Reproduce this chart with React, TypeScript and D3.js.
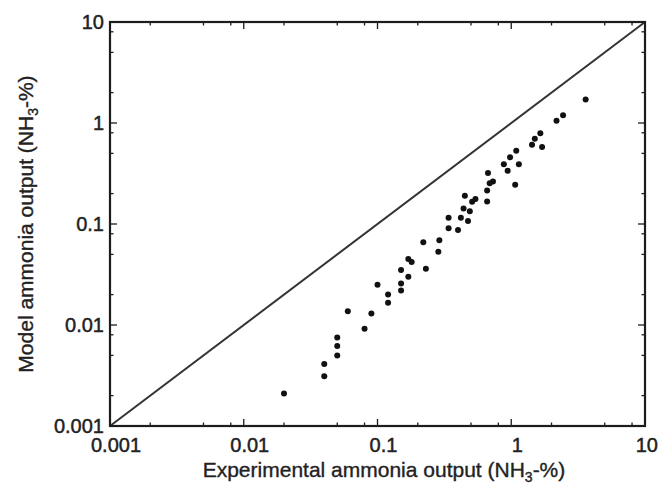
import React from "react";
import * as d3 from "d3";

const experimental = [
  0.02, 0.04, 0.04, 0.05, 0.05, 0.05, 0.06, 0.09, 0.08, 0.1,
  0.12, 0.12, 0.15, 0.15, 0.15, 0.17, 0.18, 0.17, 0.22, 0.23,
  0.29, 0.285, 0.34, 0.34, 0.4, 0.42, 0.475, 0.45, 0.54, 0.51,
  0.44, 0.49, 0.67, 0.73, 0.69, 0.66, 0.66, 0.98, 1.09, 0.88,
  1.14, 0.94, 1.07, 1.43, 1.7, 1.5, 1.65, 2.18, 2.44, 3.6
];
const model = [
  0.0021, 0.0041, 0.0031, 0.0075, 0.0062, 0.005, 0.0137, 0.013, 0.0092, 0.025,
  0.02, 0.0166, 0.035, 0.0257, 0.022, 0.045, 0.042, 0.03, 0.066, 0.036,
  0.069, 0.053, 0.115, 0.091, 0.087, 0.115, 0.107, 0.19, 0.177, 0.166,
  0.142, 0.134, 0.32, 0.263, 0.253, 0.215, 0.167, 0.457, 0.53, 0.39,
  0.39, 0.337, 0.245, 0.61, 0.58, 0.7, 0.79, 1.05, 1.19, 1.71
];
const majorTicks = [0.001, 0.01, 0.1, 1, 10];
const tickLabels = ["0.001", "0.01", "0.1", "1", "10"];
const minorMultipliers = [2, 5, 8];

const width = 659;
const height = 488;
const left = 110;
const right = 645;
const top = 22;
const bottom = 426;
const font = "'Liberation Sans', Arial, Helvetica, sans-serif";

export default function App() {
  const x = d3.scaleLog().domain([0.001, 10]).range([left, right]);
  const y = d3.scaleLog().domain([0.001, 10]).range([bottom, top]);

  const minorTicks: number[] = [];
  majorTicks.slice(0, -1).forEach(m =>
    minorMultipliers.forEach(k => minorTicks.push(m * k))
  );

  const diag = d3.line<number>()
    .x(d => x(d))
    .y(d => y(d))([0.001, 10]);

  const axisColor = "#1c1c1c";
  const last = majorTicks.length - 1;

  return (
    <svg
      width={width}
      height={height}
      style={{ position: "absolute", left: 0, top: 0, background: "#fff" }}
    >
      {/* ticks on all four sides, pointing inward */}
      <g stroke={axisColor} strokeWidth={1.3}>
        {majorTicks.map((t, i) => (
          <g key={"M" + i}>
            <line x1={x(t)} x2={x(t)} y1={bottom} y2={bottom - 7} />
            <line x1={x(t)} x2={x(t)} y1={top} y2={top + 7} />
            <line x1={left} x2={left + 7} y1={y(t)} y2={y(t)} />
            <line x1={right} x2={right - 7} y1={y(t)} y2={y(t)} />
          </g>
        ))}
        {minorTicks.map((t, i) => (
          <g key={"m" + i}>
            <line x1={x(t)} x2={x(t)} y1={bottom} y2={bottom - 3.5} />
            <line x1={x(t)} x2={x(t)} y1={top} y2={top + 3.5} />
            <line x1={left} x2={left + 3.5} y1={y(t)} y2={y(t)} />
            <line x1={right} x2={right - 3.5} y1={y(t)} y2={y(t)} />
          </g>
        ))}
      </g>

      <path d={diag || ""} fill="none" stroke="#333" strokeWidth={2} />

      <rect
        x={left}
        y={top}
        width={right - left}
        height={bottom - top}
        fill="none"
        stroke={axisColor}
        strokeWidth={2.2}
      />

      {experimental.map((v, i) => (
        <circle key={i} cx={x(v)} cy={y(model[i])} r={3} fill="#111" />
      ))}

      <g fontFamily={font} fontSize={20} fill="#222" stroke="#222" strokeWidth={0.45}>
        {majorTicks.map((t, i) =>
          i === last ? (
            <text key={"xl" + i} x={width - 1} y={bottom + 26} textAnchor="end">
              {tickLabels[i]}
            </text>
          ) : (
            <text key={"xl" + i} x={x(t) + 6} y={bottom + 26} textAnchor="middle">
              {tickLabels[i]}
            </text>
          )
        )}
        {majorTicks.map((t, i) => (
          <text key={"yl" + i} x={left - 6} y={y(t)} dy="0.35em" textAnchor="end">
            {tickLabels[i]}
          </text>
        ))}
      </g>

      <g fontFamily={font} fontSize={21} fill="#222" stroke="#222" strokeWidth={0.35}>
        <text x={384} y={477} textAnchor="middle">
          Experimental ammonia output (NH
          <tspan fontSize={14} dy={5}>3</tspan>
          <tspan dy={-5}>-%)</tspan>
        </text>
        <text
          transform={`translate(33, ${(top + bottom) / 2}) rotate(-90)`}
          textAnchor="middle"
        >
          Model ammonia output (NH
          <tspan fontSize={14} dy={5}>3</tspan>
          <tspan dy={-5}>-%)</tspan>
        </text>
      </g>
    </svg>
  );
}
